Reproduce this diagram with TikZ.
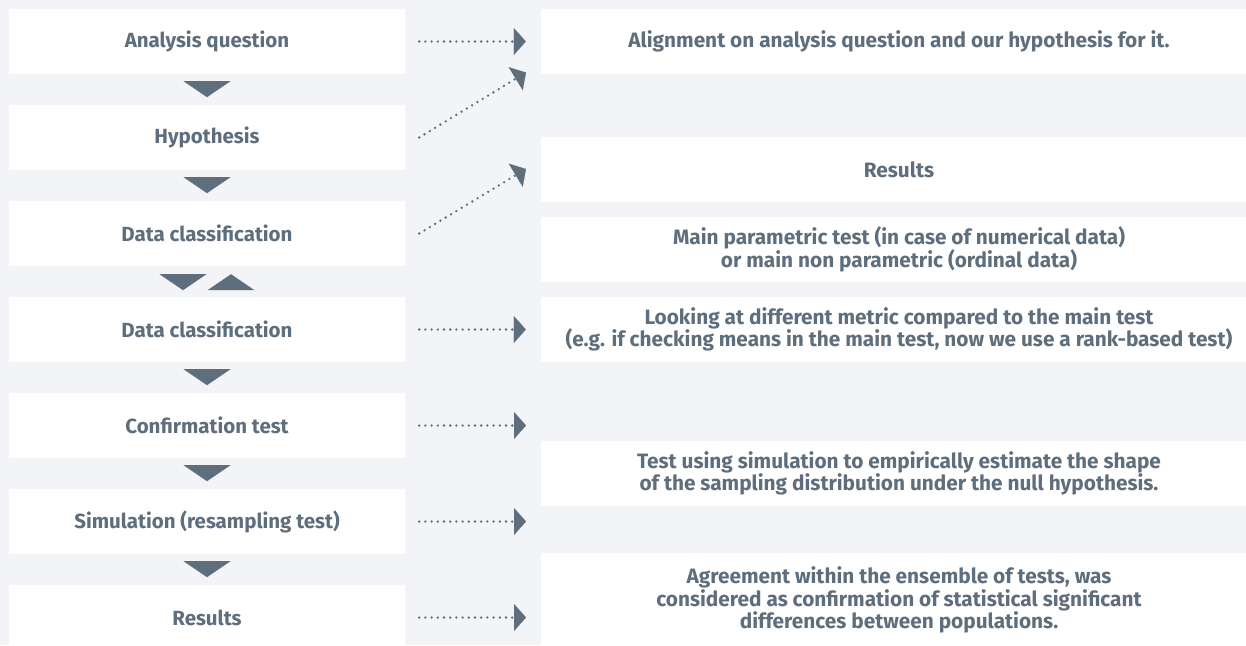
\documentclass[tikz,border=0pt]{standalone}
\usepackage{fontspec}
\setmainfont{Fira Sans}
\usetikzlibrary{arrows.meta}
\definecolor{bgGray}{RGB}{242,244,247}
\definecolor{slate}{RGB}{94,110,125}

\begin{document}
\begin{tikzpicture}[x=1pt,y=-1pt,
  stepBox/.style={fill=white, minimum width=396pt, minimum height=65pt, inner sep=0pt, text=slate, font=\fontsize{20.5}{24}\selectfont\bfseries},
  noteBox/.style={fill=white, minimum width=716pt, minimum height=65pt, inner sep=0pt, align=center, text=slate, font=\fontsize{20.8}{22.5}\selectfont\bfseries},
  flowTri/.style={fill=slate},
  dotArrow/.style={draw=slate, line width=2.6pt, line cap=round, dash pattern=on 0pt off 6.2pt, -{Triangle[length=12pt,width=27pt,line width=0.1pt]}}]
  % \draw[step=10,thin,gray!40] (0,0) grid (1246,645);
  \useasboundingbox (0,0) rectangle (1246,645);
  \clip (0,0) rectangle (1246,645);
  \fill[bgGray] (0,0) rectangle (1246,645);

  \node[stepBox] (questionNode)   at (207,41.5)  {Analysis question};
  \node[stepBox] (hypothesisNode) at (207,137.5) {Hypothesis};
  \node[stepBox] (classANode)     at (207,233.5) {Data classification};
  \node[stepBox] (classBNode)     at (207,329.5) {Data classification};
  \node[stepBox] (confirmNode)    at (207,425.5) {Confirmation test};
  \node[stepBox] (simNode)        at (207,521.5) {Simulation (resampling test)};
  \node[stepBox] (resultsNode)    at (207,617.5) {Results};

  \node[noteBox] (alignNode)    at (899,41.5)  {Alignment on analysis question and our hypothesis for it.};
  \node[noteBox] (resNoteNode)  at (899,169.5) {Results};
  \node[noteBox] (mainTestNode) at (899,249.5) {Main parametric test (in case of numerical data)\\or main non parametric (ordinal data)};
  \node[noteBox] (metricNode)   at (899,329.5) {Looking at different metric compared to the main test\\(e.g. if checking means in the main test, now we use a rank-based test)};
  \node[noteBox] (simNoteNode)  at (899,473.5) {Test using simulation to empirically estimate the shape\\of the sampling distribution under the null hypothesis.};
  \node[noteBox, minimum height=94pt] (agreeNode) at (899,600) {Agreement within the ensemble of tests, was\\considered as confirmation of statistical significant\\differences between populations.};

  \fill[flowTri] ([xshift=-23.5pt,yshift=-7pt]questionNode.south) -- ([xshift=23.5pt,yshift=-7pt]questionNode.south) -- ([yshift=-23pt]questionNode.south) -- cycle;
  \fill[flowTri] ([xshift=-23.5pt,yshift=-7pt]hypothesisNode.south) -- ([xshift=23.5pt,yshift=-7pt]hypothesisNode.south) -- ([yshift=-23pt]hypothesisNode.south) -- cycle;
  \fill[flowTri] ([xshift=-47.5pt,yshift=-8pt]classANode.south) -- ([xshift=-0.5pt,yshift=-8pt]classANode.south) -- ([xshift=-24pt,yshift=-24pt]classANode.south) -- cycle;
  \fill[flowTri] ([xshift=0.5pt,yshift=-24pt]classANode.south) -- ([xshift=47.5pt,yshift=-24pt]classANode.south) -- ([xshift=24pt,yshift=-8pt]classANode.south) -- cycle;
  \fill[flowTri] ([xshift=-23.5pt,yshift=-7pt]classBNode.south) -- ([xshift=23.5pt,yshift=-7pt]classBNode.south) -- ([yshift=-23pt]classBNode.south) -- cycle;
  \fill[flowTri] ([xshift=-23.5pt,yshift=-7pt]confirmNode.south) -- ([xshift=23.5pt,yshift=-7pt]confirmNode.south) -- ([yshift=-23pt]confirmNode.south) -- cycle;
  \fill[flowTri] ([xshift=-23.5pt,yshift=-7pt]simNode.south) -- ([xshift=23.5pt,yshift=-7pt]simNode.south) -- ([yshift=-23pt]simNode.south) -- cycle;

  \coordinate (hypEnd)     at (526,72.5);
  \coordinate (classAEnd)  at (526,169);
  \coordinate (confirmEnd) at (526,425.5);
  \coordinate (simEnd)     at (526,521.5);
  \coordinate (resultsEnd) at (526,617.5);

  \draw[dotArrow] ([xshift=14pt]questionNode.east) -- ([xshift=-15pt]alignNode.west);
  \draw[dotArrow] ([xshift=14pt]hypothesisNode.east) -- (hypEnd);
  \draw[dotArrow] ([xshift=14pt]classANode.east) -- (classAEnd);
  \draw[dotArrow] ([xshift=14pt]classBNode.east) -- ([xshift=-15pt]metricNode.west);
  \draw[dotArrow] ([xshift=14pt]confirmNode.east) -- (confirmEnd);
  \draw[dotArrow] ([xshift=14pt]simNode.east) -- (simEnd);
  \draw[dotArrow] ([xshift=14pt]resultsNode.east) -- (resultsEnd);
\end{tikzpicture}
\end{document}
